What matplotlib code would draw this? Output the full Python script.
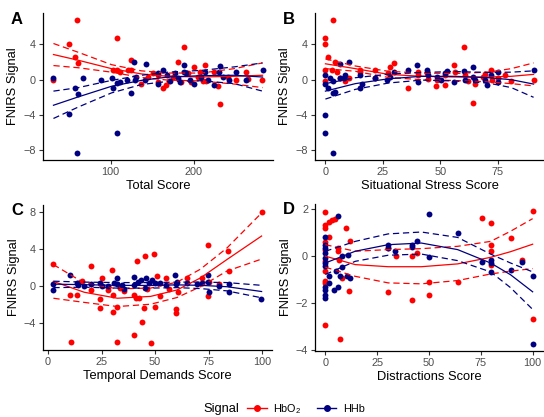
import matplotlib
matplotlib.use('Agg')
import matplotlib.pyplot as plt
from matplotlib.lines import Line2D

plt.rcParams['font.family'] = ['Liberation Sans', 'DejaVu Sans']
plt.rcParams['mathtext.fontset'] = 'custom'
plt.rcParams['mathtext.rm'] = 'Liberation Sans'
plt.rcParams['mathtext.default'] = 'regular'

RED = '#FF0000'
BLUE = '#000080'

# ---- Panel A: Total Score ----
a_x_hbo = [31, 50, 59, 57, 61, 108, 103, 107, 111, 125, 121, 124, 137, 151, 157, 163, 167, 181, 188,
           185, 193, 200, 214, 215, 229, 232, 251, 263, 282, 224, 208, 205, 197, 170, 175, 157, 145,
           211, 241, 265]
a_y_hbo = [0, 4.0, 6.8, 2.55, 1.9, 4.7, 1.15, 1.05, 0.85, 2.2, 1.1, 1.05, -0.45, 0.7, -0.25, -0.9,
           -0.65, 1.95, 3.7, -0.25, 0.7, 1.4, 1.7, -0.1, -0.7, -2.75, 0, 0.85, 0, 0.85, 0.85, 0.3,
           -0.25, -0.1, 0.3, 0.5, 0.3, -0.1, 0.3, 0.1]
a_x_hhb = [31, 50, 57, 61, 59, 67, 88, 108, 102, 103, 107, 111, 120, 125, 128, 129, 131, 142, 141,
           157, 157, 163, 168, 171, 177, 181, 183, 188, 188, 191, 195, 200, 209, 214, 217, 225, 230,
           232, 235, 243, 251, 263, 283]
a_y_hhb = [0.2, -3.9, -1.0, -1.65, -8.35, 0.2, 0, -6.1, 0.2, -0.9, -0.4, -0.25, 0, -1.5, 2.05, 0,
           0.3, 1.8, 0, 0.75, -0.45, 1.1, 0.5, -0.1, 0.75, 0.2, -0.25, 1.7, 0.85, 0.7, 0, -0.45, 0.3,
           0.85, 0, -0.55, 0.85, 1.5, 0.3, 0, 0.85, 0, 1.15]
a_fit_x = [31, 61, 101, 137, 169, 209, 249, 283]
a_hbo_fit = [2.85, 2.2, 1.25, 0.65, 0.38, 0.3, 0.38, 0.5]
a_hbo_hi = [4.1, 3.1, 1.7, 1.0, 0.75, 0.75, 1.25, 1.9]
a_hbo_lo = [1.6, 1.35, 0.85, 0.25, -0.05, -0.15, -0.5, -0.9]
a_hhb_fit = [-2.9, -1.95, -0.75, -0.08, 0.3, 0.45, 0.5, 0.3]
a_hhb_hi = [-1.3, -0.9, -0.08, 0.5, 0.85, 1.05, 1.45, 1.9]
a_hhb_lo = [-4.4, -3.1, -1.5, -0.55, -0.2, -0.12, -0.45, -1.3]

# ---- Panel B: Situational Stress Score ----
b_x_hbo = [0, 0, 0, 0, 1, 3.2, 2.9, 4, 5, 6.5, 8.4, 10.4, 15.2, 15.2, 21.4, 21.6, 28, 30, 27.4, 36,
           40.4, 40.4, 44, 44.7, 48, 48.3, 52, 52.2, 56, 56.3, 60.3, 60.6, 62, 64.2, 65.2, 68.5, 72.2,
           72.4, 75, 80.5, 90.5, 77.9, 69.3]
b_y_hbo = [4.7, 4.05, 1.05, -0.1, 2.55, 6.8, 1.1, 2.0, 0.85, 0.2, -0.15, 0.2, 1.15, 0.85, 1.05, 0.2,
           1.4, 1.9, 0.7, -0.9, 0.85, 0.5, 0.7, 0.1, -0.75, -0.08, -0.65, 0.5, 1.7, 0.85, 3.75, 0.5,
           -0.1, -2.7, -0.45, 0.3, 1.05, 0, 0.2, -0.2, 0, 0.5, 0.6]
b_x_hhb = [0, 0, 0, 0, 1, 2.2, 3.2, 3.2, 3.3, 4.3, 6.2, 6.5, 7.9, 8.4, 10.1, 15.2, 15.2, 15.9, 21.4,
           26.7, 28, 30, 36, 40, 40.4, 44, 44.7, 48.3, 50.2, 52, 52.7, 56, 60.3, 60.6, 64.2, 64.2,
           65.2, 69.3, 70.4, 72.2, 75, 75, 90.5]
b_y_hhb = [0.5, -0.45, -3.95, -6.1, -0.9, 0.2, -8.35, -0.1, -1.5, -1.4, 1.8, 0.2, 0.2, 0.5, 2.05,
           0.5, -0.9, -0.45, 0.2, 0, 0.35, 0.85, 1.15, 1.7, -0.25, 1.05, 0.5, 0.35, -0.08, 0.7, 0.95,
           -0.25, 0.95, -0.08, 1.45, 0.3, -0.08, -0.08, -0.65, 0.5, 0.85, -0.25, 1.15]
b_fit_x = [0, 13, 27.4, 41.8, 56.3, 70.7, 80.8, 90.5]
b_hbo_fit = [1.8, 1.25, 0.6, 0.38, 0.3, 0.3, 0.38, 0.6]
b_hbo_hi = [2.35, 1.55, 0.95, 0.75, 0.7, 0.85, 1.25, 1.9]
b_hbo_lo = [1.25, 0.95, 0.25, 0.0, -0.1, -0.25, -0.45, -0.7]
b_hhb_fit = [-1.3, -0.45, 0.1, 0.38, 0.38, 0.22, 0.0, -0.5]
b_hhb_hi = [-0.45, 0.22, 0.62, 0.82, 0.92, 0.82, 0.85, 1.0]
b_hhb_lo = [-2.2, -1.1, -0.38, -0.05, -0.15, -0.38, -0.9, -2.0]

# ---- Panel C: Temporal Demands Score ----
c_x_hbo = [2.5, 10.7, 10.4, 13.5, 13.8, 16, 20.3, 20.3, 24.3, 25.4, 24.3, 28, 30, 30.5, 30.5, 32,
           32.4, 33.6, 35.5, 40.2, 40.2, 41, 41.7, 42.5, 44, 44.8, 45.3, 46.4, 47.9, 49.5, 49.8, 51,
           52.2, 54.9, 56.4, 60, 60, 60.6, 65, 72, 74.6, 74.6, 75, 79.7, 84.3, 84.7, 99.8]
c_y_hbo = [2.35, -6.05, -1.05, -1.05, 0.3, 0.5, 2.1, -0.45, -2.45, 0.9, -1.4, -0.45, 1.75, -1.0,
           -2.8, -2.35, -6.05, -0.25, -0.6, -5.35, -1.0, -1.35, 2.65, -1.35, -3.95, -2.45, 3.25,
           -0.35, -6.25, 3.4, -2.25, 1.1, -1.15, 0.85, -0.35, -2.55, -3.0, -0.7, 0.9, 0.9, 4.4, -1.15,
           0.4, 0.2, 3.8, 1.65, 8.05]
c_x_hhb = [2.5, 2.5, 10.4, 13.5, 13.8, 16.6, 20, 24.3, 25.4, 27.8, 30.9, 32.4, 32, 34.7, 35.5, 40.2,
           40.2, 42, 43.3, 45.6, 45.1, 47.1, 48.7, 50.2, 52.2, 54.9, 59.5, 60, 60.3, 65, 69.6, 72,
           74.6, 74.6, 75, 79.7, 84.7, 84.7, 99.5]
c_y_hhb = [0.2, -0.45, 1.2, 0.3, 0.05, -0.07, 0.2, 0.3, -0.07, -0.07, 0.3, 0.85, 0.2, 0.1, -0.35,
           1.0, 0.1, 0.4, 0.65, 0.85, -0.2, 0.3, 0.65, 0.3, 0.3, 0.1, 1.2, 0.2, 0.4, 0.3, 0.2, 0.3,
           1.2, 0.4, -0.7, -0.07, 0.2, -0.7, -1.4]
c_fit_x = [2.5, 16.9, 32.4, 47.9, 60.3, 71.2, 83.6, 99.8]
c_hbo_fit = [0.47, -0.7, -1.35, -1.15, -0.45, 0.85, 2.85, 5.4]
c_hbo_hi = [2.3, 0.3, -0.33, -0.25, 0.4, 1.8, 4.1, 7.9]
c_hbo_lo = [-1.35, -1.8, -2.25, -2.0, -1.27, -0.1, 1.6, 2.9]
c_hhb_fit = [0.18, 0.12, 0.05, 0.04, 0.1, 0.05, -0.1, -0.62]
c_hhb_hi = [0.5, 0.4, 0.35, 0.35, 0.4, 0.4, 0.35, 0.05]
c_hhb_lo = [-0.2, -0.15, -0.25, -0.25, -0.2, -0.3, -0.55, -1.3]

# ---- Panel D: Distractions Score ----
d_x_hbo = [0, 0, 0, 0, 0, 0, 0, 0, 0, 0, 1.9, 1.9, 3.2, 4.5, 6.1, 6.1, 7.2, 6.4, 8, 9.9, 12, 11.2,
           30, 30, 34.3, 41.9, 41.9, 44.2, 49.9, 49.9, 63.8, 75.8, 79.7, 79.7, 79.7, 79.7, 89.6, 94.9,
           100, 100]
d_y_hbo = [1.87, 1.32, 1.18, 0.61, 0.26, -0.23, -0.65, -1.05, -1.15, -2.96, 0.79, 1.46, 1.55, 1.59,
           0.33, 0.22, -3.53, -0.16, -0.96, 1.2, 0.62, -1.5, -1.55, 0.33, -0.01, -1.86, -0.01, 0.13,
           -1.65, -1.1, -1.1, 1.63, 1.4, 0.48, 0.2, -0.37, 0.77, -0.16, 1.93, -2.7]
d_x_hhb = [0, 0, 0, 0, 0, 0, 0, 0, 0, 0, 0, 1.9, 1.9, 4, 6.1, 5.3, 6.1, 7.2, 8, 8, 10.4, 12, 10.8,
           30, 30, 33.8, 41.9, 41.9, 44.2, 49.9, 49.9, 63.8, 75.8, 79.7, 79.7, 79.7, 89.6, 94.9, 100,
           100]
d_y_hhb = [0.82, 0.47, 0.33, 0.12, -0.09, -0.3, -0.44, -1.33, -1.47, -1.65, -1.79, -1.15, -0.87,
           -1.47, 1.7, -0.65, -1.33, -0.87, -0.48, -0.01, -0.87, -0.94, 0.06, 0.45, 0.33, 0.22, 0.48,
           0.37, 0.62, 1.77, -0.06, 0.98, -0.27, -0.16, -0.3, -0.68, -0.61, -0.26, -0.87, -3.77]
d_fit_x = [0, 14.4, 30.3, 46.3, 63.8, 79.7, 89.3, 100]
d_hbo_fit = [-0.01, -0.37, -0.46, -0.46, -0.34, -0.06, 0.18, 0.5]
d_hbo_hi = [0.48, 0.2, 0.27, 0.31, 0.41, 0.62, 1.05, 1.59]
d_hbo_lo = [-0.48, -0.87, -1.15, -1.19, -1.05, -0.77, -0.65, -0.54]
d_hhb_fit = [-0.3, 0.2, 0.48, 0.55, 0.27, -0.3, -0.8, -1.53]
d_hhb_hi = [0.2, 0.62, 0.94, 1.02, 0.79, 0.08, -0.3, -0.68]
d_hhb_lo = [-0.79, -0.23, 0.03, 0.08, -0.2, -0.68, -1.35, -2.28]

panels = [
    ('A', 'Total Score', [100, 200], [-8, -4, 0, 4],
     a_x_hbo, a_y_hbo, a_x_hhb, a_y_hhb, a_fit_x,
     (a_hbo_fit, a_hbo_hi, a_hbo_lo), (a_hhb_fit, a_hhb_hi, a_hhb_lo)),
    ('B', 'Situational Stress Score', [0, 25, 50, 75], [-8, -4, 0, 4],
     b_x_hbo, b_y_hbo, b_x_hhb, b_y_hhb, b_fit_x,
     (b_hbo_fit, b_hbo_hi, b_hbo_lo), (b_hhb_fit, b_hhb_hi, b_hhb_lo)),
    ('C', 'Temporal Demands Score', [0, 25, 50, 75, 100], [-4, 0, 4, 8],
     c_x_hbo, c_y_hbo, c_x_hhb, c_y_hhb, c_fit_x,
     (c_hbo_fit, c_hbo_hi, c_hbo_lo), (c_hhb_fit, c_hhb_hi, c_hhb_lo)),
    ('D', 'Distractions Score', [0, 25, 50, 75, 100], [-4, -2, 0, 2],
     d_x_hbo, d_y_hbo, d_x_hhb, d_y_hhb, d_fit_x,
     (d_hbo_fit, d_hbo_hi, d_hbo_lo), (d_hhb_fit, d_hhb_hi, d_hhb_lo)),
]

W, H = 544, 417
fig = plt.figure(figsize=(W / 100, H / 100), dpi=100)

# axes boxes in pixels: left, top, right, bottom
boxes = [(43, 13, 273, 160), (315, 13, 544, 160),
         (43, 205, 272, 350), (315, 204, 543, 351)]


def expand(vals, frac=0.05):
    lo, hi = min(vals), max(vals)
    pad = (hi - lo) * frac
    return lo - pad, hi + pad


for (lab, xlabel, xt, yt, xh, yh, xb, yb, fx, hbo, hhb), (l, t, r, b) in zip(panels, boxes):
    ax = fig.add_axes([l / W, 1 - b / H, (r - l) / W, (b - t) / H])
    ax.scatter(xh, yh, s=18, color=RED, linewidths=0, zorder=2)
    ax.scatter(xb, yb, s=18, color=BLUE, linewidths=0, zorder=3)
    for col, (fit, hi, lo) in ((RED, hbo), (BLUE, hhb)):
        ax.plot(fx, fit, color=col, lw=0.9, zorder=4)
        ax.plot(fx, hi, color=col, lw=0.9, dashes=(5, 3), zorder=4)
        ax.plot(fx, lo, color=col, lw=0.9, dashes=(5, 3), zorder=4)

    ax.set_xlim(*expand(xh + xb))
    ax.set_ylim(*expand(yh + yb))
    ax.set_xticks(xt)
    ax.set_yticks(yt)
    for s in ('top', 'right'):
        ax.spines[s].set_visible(False)
    for s in ('left', 'bottom'):
        ax.spines[s].set_linewidth(0.9)
    ax.tick_params(length=3, width=0.8, color='#333333', labelcolor='#4D4D4D',
                   labelsize=7.8, pad=2)
    ax.set_xlabel(xlabel, fontsize=9.3, labelpad=2)
    ax.set_ylabel('FNIRS Signal', fontsize=9.3, labelpad=3)
    fig.text((l - 26) / W, 1 - (t + 6) / H, lab, fontsize=12, fontweight='bold',
             ha='center', va='center')

# legend
fig.text(203 / W, 1 - 409 / H, 'Signal', fontsize=9.3, ha='left', va='center')
handles = [Line2D([], [], color=RED, marker='o', markersize=4, lw=1),
           Line2D([], [], color=BLUE, marker='o', markersize=4, lw=1)]
fig.legend(handles, ['HbO$_2$', 'HHb'], loc='center left', bbox_to_anchor=(242 / W, 1 - 409 / H),
           ncol=2, frameon=False, fontsize=7.8, handlelength=1.8, handletextpad=0.6,
           columnspacing=1.4, borderpad=0)

fig.savefig('out.png', dpi=100)
